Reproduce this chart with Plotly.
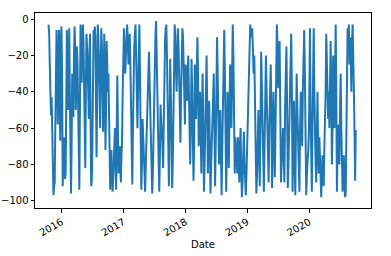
import pandas as pd
import plotly.graph_objects as go

# Values (approx. 2-3 samples per week)
vals_2015 = [-3, -8, -25, -40, -53, -43, -60, -95, -97, -92, -90, -60, -30, -6, -20, -58,
             -30, -6, -40, -67, -12, -4]
vals_2016 = [-30, -92, -80, -65, -75, -88, -85, -40, -6, -20, -50, -30, -5,
             -40, -92, -96, -70, -30, -45, -54, -20, -4, -15, -50, -35, -15, -25, -40, -70,
             -94, -60, -3, -20, -35, -10, -3, -12, -38, -60, -82, -40, -8, -15, -25, -40,
             -55, -20, -8, -60, -92, -89, -70, -30, -6, -15, -4, -10, -40, -76, -45, -3,
             -10, -20, -45, -60, -30, -5, -15, -40, -62, -35, -8, -30, -72, -50, -12, -25,
             -40, -30, -50, -80, -94, -80, -72, -85, -95, -88, -80, -70, -60, -80, -94, -60,
             -31, -60, -85, -75, -70, -80, -90, -75, -65, -40, -5]
vals_2017 = [-5, -15, -30, -20, -10, -3, -12, -25, -15, -8, -25, -45, -70, -91, -60, -30,
             -15, -8, -3, -20, -45, -60, -40, -20, -3, -30, -70, -94, -80, -55, -65, -77,
             -90, -95, -80, -65, -50, -40, -25, -18, -35, -55, -75, -90, -96, -85, -60, -40,
             -25, -10, -1, -15, -40, -60, -80, -95, -75, -47, -55, -60, -70, -82, -60, -20,
             -12, -5, -3, -20, -50, -75, -92, -60, -22, -40, -75, -93, -80, -62, -30, -3,
             -10, -28, -40, -20, -5, -15, -30, -50, -68, -40, -20, -5, -10, -25, -40, -58]
vals_2018 = [-25, -35, -45, -30, -20, -40, -58, -80, -60, -22, -40, -60, -89, -70, -25, -40,
             -55, -30, -10, -30, -70, -50, -40, -60, -85, -50, -30, -60, -95, -80, -60, -40,
             -20, -50, -85, -60, -45, -70, -96, -80, -65, -58, -40, -30, -60, -92, -70, -40,
             -10, -30, -60, -80, -65, -50, -75, -97, -70, -45, -20, -6, -30, -60, -95, -70,
             -40, -60, -82, -50, -25, -40, -60, -30, -3, -20, -50, -85, -65, -70, -80, -85,
             -65, -75, -90, -70, -60, -83, -98, -90, -75, -62, -80, -90, -97, -85, -72]
vals_2019 = [-60, -55, -40, -20, -3, -8, -10, -5, -15, -30, -20, -50, -80, -96, -85, -70,
             -50, -75, -92, -60, -18, -35, -55, -80, -95, -70, -50, -20, -40, -55, -75, -90,
             -60, -35, -25, -50, -93, -70, -40, -62, -87, -60, -20, -3, -15, -38, -25, -12,
             -50, -90, -80, -65, -60, -75, -90, -50, -20, -15, -50, -93, -80, -65, -40, -20,
             -8, -40, -95, -70, -45, -80, -97, -60, -30, -50, -65, -80, -95, -60, -40, -55,
             -70, -40, -25, -6, -30, -70, -97, -85, -80, -72, -60]
vals_2020 = [-30, -5, -50, -80, -95, -60, -15, -5, -40, -68, -80, -90, -60, -40, -70, -85,
             -65, -80, -95, -98, -85, -75, -85, -92, -70, -60, -40, -8, -25, -45, -55, -40,
             -60, -35, -12, -40, -80, -60, -20, -40, -60, -30, -3, -40, -95, -70, -58, -70,
             -80, -50, -30, -60, -80, -95, -85, -75, -90, -98, -96, -60, -20, -5, -15, -3,
             -25, -10, -20, -40, -15, -3, -20, -35, -60, -89, -61]

segments = [
    ("2015-10-16", "2015-12-31", vals_2015),
    ("2016-01-04", "2016-12-30", vals_2016),
    ("2017-01-03", "2017-12-29", vals_2017),
    ("2018-01-02", "2018-12-31", vals_2018),
    ("2019-01-02", "2019-12-31", vals_2019),
    ("2020-01-02", "2020-10-02", vals_2020),
]

dates = []
values = []
for start, end, v in segments:
    dates.extend(pd.date_range(start, end, periods=len(v)))
    values.extend(v)

year_ticks = ["2016-01-01", "2017-01-01", "2018-01-01", "2019-01-01", "2020-01-01"]
year_labels = ["2016", "2017", "2018", "2019", "2020"]
y_ticks = [0, -20, -40, -60, -80, -100]

fig = go.Figure()
fig.add_trace(go.Scatter(x=dates, y=values, mode="lines",
                         line=dict(color="#1f77b4", width=2), showlegend=False))

axis_common = dict(showline=True, linecolor="black", linewidth=1, mirror=True,
                   ticks="outside", ticklen=3.5, tickwidth=0.8, tickcolor="black",
                   showgrid=False, zeroline=False, automargin=False,
                   tickfont=dict(family="DejaVu Sans", size=10, color="black"))

fig.update_layout(
    width=391, height=256,
    margin=dict(l=35, r=20, t=13, b=48),
    paper_bgcolor="white", plot_bgcolor="white",
    font=dict(family="DejaVu Sans", size=10, color="black"),
    xaxis=dict(range=["2015-07-28", "2020-12-31"], tickvals=year_ticks, ticktext=year_labels,
               tickangle=-30, **axis_common),
    yaxis=dict(range=[-104, 3.4], tickvals=y_ticks, **axis_common),
    annotations=[dict(text="Date", xref="paper", yref="paper", x=0.5, y=-0.185,
                      xanchor="center", yanchor="middle", showarrow=False,
                      font=dict(family="DejaVu Sans", size=10, color="black"))],
)

fig.write_html("out.html")
